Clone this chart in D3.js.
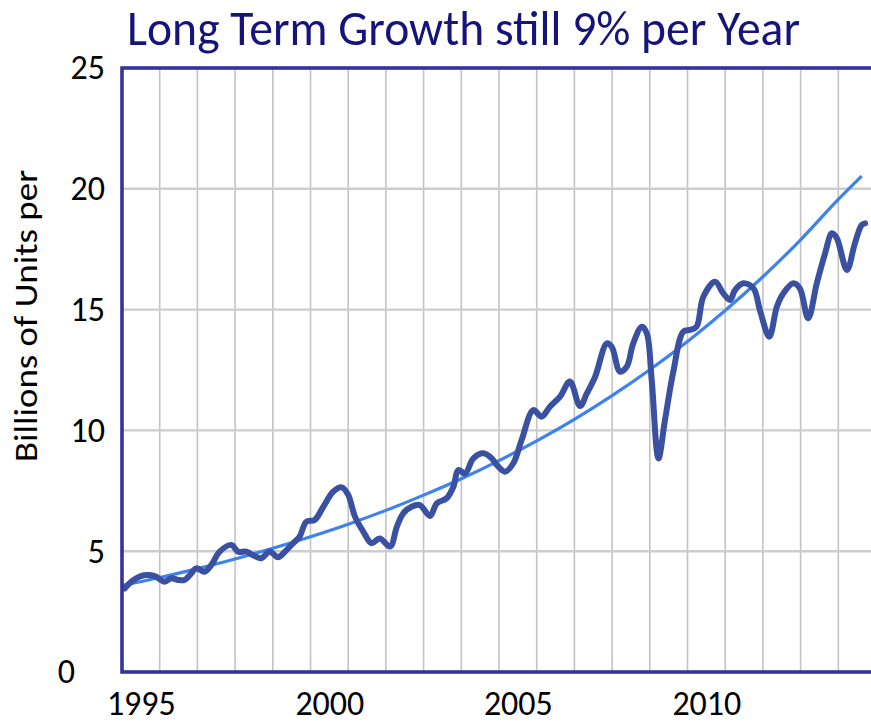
<!DOCTYPE html>
<html>
<head>
<meta charset="utf-8">
<script src="https://cdn.jsdelivr.net/npm/d3@7"></script>
<style>
  body { margin: 0; background: #fff; }
  text { font-family: Carlito, Calibri, Lato, sans-serif; }
</style>
</head>
<body>
<div id="chart"></div>
<script>
// quarterly-ish readings of the dark series (year, billions of units)
const unitYears = [1995.07, 1995.25, 1995.47, 1995.64, 1995.87, 1996.13, 1996.31, 1996.49, 1996.66, 1996.80,
  1996.97, 1997.19, 1997.37, 1997.59, 1997.90, 1998.08, 1998.30, 1998.52, 1998.69, 1998.92,
  1999.14, 1999.32, 1999.54, 1999.71, 1999.89, 2000.11, 2000.34, 2000.60, 2000.83, 2001.00,
  2001.18, 2001.40, 2001.62, 2001.84, 2002.11, 2002.29, 2002.46, 2002.68, 2002.90, 2003.17,
  2003.35, 2003.61, 2003.79, 2003.92, 2004.10, 2004.32, 2004.58, 2004.81, 2004.94, 2005.16,
  2005.38, 2005.60, 2005.91, 2006.13, 2006.35, 2006.62, 2006.88, 2007.15, 2007.33, 2007.55,
  2007.86, 2007.99, 2008.21, 2008.39, 2008.56, 2008.79, 2008.92, 2009.05, 2009.23, 2009.40,
  2009.62, 2009.89, 2010.07, 2010.24, 2010.42, 2010.73, 2010.95, 2011.13, 2011.26, 2011.48,
  2011.75, 2011.92, 2012.17, 2012.37, 2012.54, 2012.81, 2012.98, 2013.20, 2013.43, 2013.65,
  2013.83, 2013.96, 2014.23, 2014.44, 2014.62, 2014.71];
const units = [3.46, 3.74, 3.95, 4.01, 3.97, 3.74, 3.88, 3.81, 3.81, 4.01,
  4.29, 4.15, 4.43, 4.98, 5.26, 4.98, 4.98, 4.80, 4.71, 4.98,
  4.75, 4.98, 5.33, 5.60, 6.22, 6.29, 6.84, 7.46, 7.64, 7.33,
  6.43, 5.81, 5.33, 5.53, 5.19, 6.01, 6.57, 6.84, 6.91, 6.46,
  6.98, 7.19, 7.67, 8.36, 8.22, 8.84, 9.05, 8.84, 8.57, 8.29,
  8.64, 9.60, 10.84, 10.57, 10.98, 11.40, 12.02, 11.01, 11.53, 12.22,
  13.60, 13.46, 12.43, 12.64, 13.60, 14.29, 14.02, 12.09, 8.84, 10.40,
  12.40, 14.09, 14.16, 14.29, 15.53, 16.15, 15.67, 15.40, 15.81, 16.09,
  15.88, 14.98, 13.88, 15.12, 15.67, 16.09, 15.88, 14.64, 16.09, 17.33,
  18.16, 17.96, 16.64, 17.74, 18.50, 18.57];

// trend line readings
const trendYears = [1995, 1996, 1997, 1998, 1999, 2000, 2001, 2002, 2003, 2004,
  2005, 2006, 2007, 2008, 2009, 2010, 2011, 2012, 2013, 2014, 2014.62];
const trendValues = [3.58, 3.91, 4.28, 4.68, 5.12, 5.60, 6.12, 6.69, 7.32, 8.00,
  8.75, 9.57, 10.46, 11.44, 12.51, 13.68, 14.96, 16.36, 17.89, 19.56, 20.53];

const gridYears = [1995, 1996, 1997, 1998, 1999, 2000, 2001, 2002, 2003, 2004,
  2005, 2006, 2007, 2008, 2009, 2010, 2011, 2012, 2013, 2014, 2015];
const labelYears = [1995, 2000, 2005, 2010];
const yTicks = [0, 5, 10, 15, 20, 25];

const title = 'Long Term Growth still 9% per Year';
const yAxisLabel = 'Billions of Units per';

const width = 871, height = 725;
const margin = {top: 68, right: -5, bottom: 53, left: 122};
const innerWidth = width - margin.left - margin.right;
const innerHeight = height - margin.top - margin.bottom;

const svg = d3.select('#chart').append('svg')
  .attr('width', width)
  .attr('height', height);

const xScale = d3.scaleLinear()
  .domain([1995, 2015])
  .range([0, innerWidth]);

const yScale = d3.scaleLinear()
  .domain([0, 25])
  .range([innerHeight, 0]);

const g = svg.append('g')
  .attr('transform', `translate(${margin.left},${margin.top})`);

// gridlines
g.append('g').attr('class', 'x-grid')
  .selectAll('line').data(gridYears).enter()
  .append('line')
  .attr('x1', d => xScale(d)).attr('x2', d => xScale(d))
  .attr('y1', 0).attr('y2', innerHeight)
  .attr('stroke', '#c3c3c3')
  .attr('stroke-width', 1.6);

g.append('g').attr('class', 'y-grid')
  .selectAll('line').data(yTicks.slice(1, -1)).enter()
  .append('line')
  .attr('x1', 0).attr('x2', innerWidth)
  .attr('y1', d => yScale(d)).attr('y2', d => yScale(d))
  .attr('stroke', '#cdcdcd')
  .attr('stroke-width', 2.4);

// y axis labels
const yAxis = d3.axisLeft(yScale)
  .tickValues(yTicks)
  .tickSize(0)
  .tickPadding(17);

const yAxisG = g.append('g').call(yAxis);
yAxisG.select('.domain').remove();
yAxisG.selectAll('text')
  .attr('font-family', 'Carlito, Calibri, Lato, sans-serif')
  .attr('font-size', 34)
  .attr('fill', '#000')
  .attr('dx', d => d === 0 ? -30 : 0);

// x axis labels, centred in each year column
const xAxis = d3.axisBottom(xScale)
  .tickValues(labelYears.map(d => d + 0.5))
  .tickFormat(d => String(d - 0.5))
  .tickSize(0)
  .tickPadding(19);

const xAxisG = g.append('g')
  .attr('transform', `translate(0,${innerHeight})`)
  .call(xAxis);
xAxisG.select('.domain').remove();
xAxisG.selectAll('text')
  .attr('font-family', 'Carlito, Calibri, Lato, sans-serif')
  .attr('font-size', 34)
  .attr('fill', '#000');

// lines
const trendLine = d3.line()
  .x((d, i) => xScale(trendYears[i]))
  .y(d => yScale(d))
  .curve(d3.curveMonotoneX);

g.append('path')
  .datum(trendValues)
  .attr('fill', 'none')
  .attr('stroke', '#3d82ee')
  .attr('stroke-width', 3.2)
  .attr('d', trendLine);

const unitLine = d3.line()
  .x((d, i) => xScale(unitYears[i]))
  .y(d => yScale(d))
  .curve(d3.curveCatmullRom.alpha(0.5));

g.append('path')
  .datum(units)
  .attr('fill', 'none')
  .attr('stroke', '#3a50a0')
  .attr('stroke-width', 6)
  .attr('stroke-linejoin', 'round')
  .attr('stroke-linecap', 'round')
  .attr('d', unitLine);

// plot frame
g.append('rect')
  .attr('x', 0).attr('y', 0)
  .attr('width', innerWidth).attr('height', innerHeight)
  .attr('fill', 'none')
  .attr('stroke', '#33339c')
  .attr('stroke-width', 3.6);

// y axis title
svg.append('text')
  .attr('transform', 'translate(37,316) rotate(-90)')
  .attr('text-anchor', 'middle')
  .attr('font-size', 32)
  .attr('textLength', 292)
  .attr('lengthAdjust', 'spacingAndGlyphs')
  .attr('fill', '#000')
  .text(yAxisLabel);

// chart title
svg.append('text')
  .attr('x', 127)
  .attr('y', 45)
  .attr('font-size', 49)
  .attr('textLength', 673)
  .attr('lengthAdjust', 'spacingAndGlyphs')
  .attr('fill', '#14147a')
  .text(title);
</script>
</body>
</html>
